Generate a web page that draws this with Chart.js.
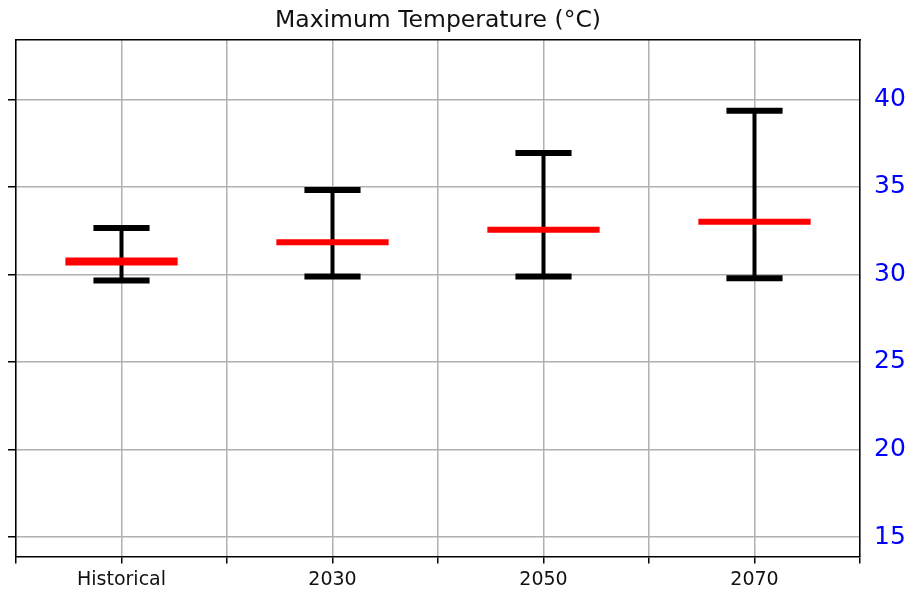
<!DOCTYPE html>
<html>
<head>
<meta charset="utf-8">
<script src="https://cdn.jsdelivr.net/npm/chart.js@4.4.1/dist/chart.umd.min.js"></script>
<style>
  html, body { margin: 0; padding: 0; background: #fff; }
  #wrap { width: 908px; height: 591px; }
</style>
</head>
<body>
<div id="wrap"><canvas id="chart"></canvas></div>
<script>
// ── Data ─────────────────────────────────────
const categories = ['Historical', '2030', '2050', '2070'];
const meanValues = [30.74, 31.84, 32.55, 33.01];
const lowValues  = [29.65, 29.88, 29.88, 29.78];
const highValues = [32.66, 34.83, 36.93, 39.35];
const yTicks     = [15, 20, 25, 30, 35, 40];
const yMin = 13.89;
const yMax = 43.38;

// ── Style ────────────────────────────────────
const FONT      = 'DejaVu Sans';
const GRID      = '#b0b0b0';
const CAP_HALF  = 0.133;
const MEAN_HALF = 0.266;

// ── Helpers ──────────────────────────────────
// horizontal segments, split by null gaps
function hSegments(values, half, idx) {
  const pts = [];
  idx.forEach(i => {
    pts.push({ x: i - half, y: values[i] });
    pts.push({ x: i + half, y: values[i] });
    pts.push({ x: i, y: null });
  });
  return pts;
}

function vSegments() {
  const pts = [];
  categories.forEach((c, i) => {
    pts.push({ x: i, y: lowValues[i] });
    pts.push({ x: i, y: highValues[i] });
    pts.push({ x: i, y: null });
  });
  return pts;
}

const allIdx = categories.map((c, i) => i);
const xTicks = [];
for (let i = 0; i <= categories.length * 2; i++) xTicks.push(-0.5 + i * 0.5);

function seg(data, color, width) {
  return {
    data,
    borderColor: color,
    backgroundColor: color,
    borderWidth: width,
    borderCapStyle: 'butt',
    pointRadius: 0,
    pointHoverRadius: 0,
    showLine: true,
    spanGaps: false,
    tension: 0,
    clip: false
  };
}

new Chart(document.getElementById('chart'), {
  type: 'line',
  data: {
    datasets: [
      seg(hSegments(meanValues, MEAN_HALF, [0]), '#ff0000', 8),
      seg(hSegments(meanValues, MEAN_HALF, allIdx.slice(1)), '#ff0000', 6),
      seg(hSegments(highValues, CAP_HALF, allIdx), '#000000', 6),
      seg(hSegments(lowValues, CAP_HALF, allIdx), '#000000', 6),
      seg(vSegments(), '#000000', 4)
    ]
  },
  options: {
    responsive: true,
    maintainAspectRatio: false,
    animation: false,
    events: [],
    layout: { padding: { left: 8, right: 0, top: 0, bottom: 0 } },
    plugins: {
      legend: { display: false },
      tooltip: { enabled: false },
      title: {
        display: true,
        text: 'Maximum Temperature (°C)',
        color: '#111',
        fullSize: false,
        font: { family: FONT, size: 23.5, weight: 'normal' },
        padding: { top: 7, bottom: 5 }
      }
    },
    scales: {
      x: {
        type: 'linear',
        position: 'bottom',
        min: -0.5,
        max: categories.length - 0.5,
        afterBuildTicks: axis => { axis.ticks = xTicks.map(v => ({ value: v })); },
        afterFit: axis => { axis.height = 34.5; },
        grid: {
          color: GRID,
          lineWidth: 1.5,
          tickColor: '#000',
          tickWidth: 1.5,
          tickLength: 7
        },
        border: { display: true, color: '#000', width: 1.5 },
        ticks: {
          color: '#111',
          font: { family: FONT, size: 19 },
          padding: 5,
          maxRotation: 0,
          autoSkip: false,
          callback: v => Number.isInteger(v) ? categories[v] : ''
        }
      },
      xTop: {
        type: 'linear',
        position: 'top',
        min: -0.5,
        max: categories.length - 0.5,
        grid: { display: false, drawTicks: false },
        border: { display: true, color: '#000', width: 1.5 },
        ticks: { display: false }
      },
      y: {
        type: 'linear',
        position: 'left',
        min: yMin,
        max: yMax,
        afterBuildTicks: axis => { axis.ticks = yTicks.map(v => ({ value: v })); },
        afterFit: axis => { axis.width = 8; },
        grid: {
          color: GRID,
          lineWidth: 1.5,
          tickColor: '#000',
          tickWidth: 1.5,
          tickLength: 8
        },
        border: { display: true, color: '#000', width: 1.5 },
        ticks: { display: false }
      },
      yRight: {
        type: 'linear',
        position: 'right',
        min: yMin,
        max: yMax,
        afterBuildTicks: axis => { axis.ticks = yTicks.map(v => ({ value: v })); },
        afterFit: axis => { axis.width = 48; },
        grid: { display: false, drawTicks: false },
        border: { display: true, color: '#000', width: 1.5 },
        ticks: {
          color: '#0000ff',
          font: { family: FONT, size: 25 },
          padding: 14
        }
      }
    }
  }
});
</script>
</body>
</html>
